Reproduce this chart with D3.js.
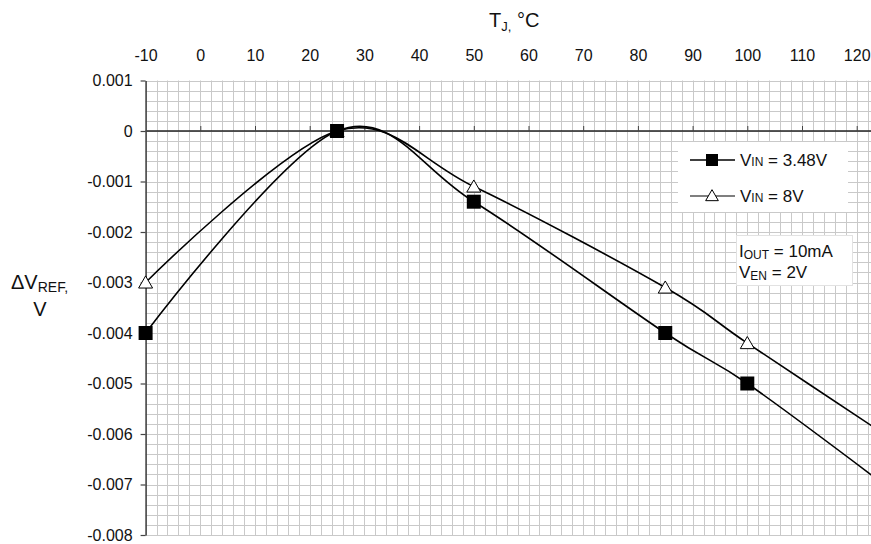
<!DOCTYPE html>
<html>
<head>
<meta charset="utf-8">
<script src="https://cdn.jsdelivr.net/npm/d3@7"></script>
<style>
  html, body { margin: 0; padding: 0; background: #fff; }
  svg { display: block; font-family: "Liberation Sans", Arial, sans-serif; }
</style>
</head>
<body>
<svg id="chart" width="871" height="544"></svg>
<script>
// Junction temperature (°C) at each measurement point
const temps = [-10, 25, 50, 85, 100, 125];
// Reference voltage shift (V) for each input voltage
const dvVin348 = [-0.004, 0, -0.0014, -0.004, -0.005, -0.007];
const dvVin8 = [-0.003, 0, -0.0011, -0.0031, -0.0042, -0.006];
// Axis ticks
const xTicks = [-10, 0, 10, 20, 30, 40, 50, 60, 70, 80, 90, 100, 110, 120];
const yTicks = [0.001, 0, -0.001, -0.002, -0.003, -0.004, -0.005, -0.006, -0.007, -0.008];
const seriesNames = ["3.48V", "8V"];

const W = 871, H = 544;
const plotLeft = 145.6, plotTop = 80.5, plotBottom = 535;
const svg = d3.select("#chart");

const x = d3.scaleLinear().domain([-10, 120]).range([plotLeft, 856.7]);
const y = d3.scaleLinear().domain([-0.008, 0.001]).range([plotBottom, plotTop]);
const xMaxVisible = x.invert(W);

const fmtY = d => d === 0 ? "0" : (d < 0 ? "-" : "") + Math.abs(d).toFixed(3);

// Minor grid
const grid = svg.append("g").attr("stroke", "#c9c9c9").attr("stroke-width", 1);
grid.selectAll("line.v").data(d3.range(-8, xMaxVisible, 2)).join("line")
  .attr("class", "v")
  .attr("x1", d => Math.round(x(d)) + 0.5).attr("x2", d => Math.round(x(d)) + 0.5)
  .attr("y1", plotTop).attr("y2", plotBottom);
grid.selectAll("line.h").data(d3.range(0, 46).map(i => 0.001 - i * 0.0002)).join("line")
  .attr("class", "h")
  .attr("x1", plotLeft).attr("x2", W)
  .attr("y1", d => Math.round(y(d)) + 0.5).attr("y2", d => Math.round(y(d)) + 0.5);

// Zero line with small upward ticks
const zeroAxis = svg.append("g")
  .attr("transform", `translate(0,${y(0)})`)
  .call(d3.axisTop(x).tickValues(xTicks.slice(1)).tickSize(5).tickSizeOuter(0).tickFormat(""));
zeroAxis.select(".domain").attr("d", `M${plotLeft},0H${W}`).attr("stroke", "#222").attr("stroke-width", 1.3);
zeroAxis.selectAll(".tick line").attr("stroke", "#444").attr("stroke-width", 1);

// Temperature labels along the top
const topAxis = svg.append("g")
  .attr("transform", "translate(0,61)")
  .call(d3.axisTop(x).tickValues(xTicks).tickSize(0).tickPadding(0).tickFormat(d => String(d)));
topAxis.select(".domain").remove();
topAxis.selectAll("text").attr("font-size", 16).attr("fill", "#111")
  .attr("font-family", "Liberation Sans, Arial, sans-serif").attr("dy", 0);

// Left axis
const yAxis = svg.append("g")
  .attr("transform", `translate(${plotLeft},0)`)
  .call(d3.axisLeft(y).tickValues(yTicks).tickSize(5).tickSizeOuter(0).tickPadding(8).tickFormat(fmtY));
yAxis.select(".domain").attr("stroke", "#444").attr("stroke-width", 1.6);
yAxis.selectAll(".tick line").attr("stroke", "#444").attr("stroke-width", 1.2);
yAxis.selectAll("text").attr("font-size", 16).attr("fill", "#111")
  .attr("font-family", "Liberation Sans, Arial, sans-serif");

// Axis titles
const tTitle = svg.append("text").attr("x", 489).attr("y", 27).attr("font-size", 20).attr("fill", "#111");
tTitle.append("tspan").text("T");
tTitle.append("tspan").attr("font-size", 13).attr("dy", 4).text("J,");
tTitle.append("tspan").attr("dy", -4).text(" °C");

const vTitle = svg.append("text").attr("x", 11).attr("y", 289).attr("font-size", 20).attr("fill", "#111");
vTitle.append("tspan").text("ΔV");
vTitle.append("tspan").attr("font-size", 14).attr("dy", 3).text("REF,");
svg.append("text").attr("x", 40).attr("y", 316).attr("font-size", 20).attr("fill", "#111")
  .attr("text-anchor", "middle").text("V");

// Curves
svg.append("clipPath").attr("id", "plotClip").append("rect")
  .attr("x", plotLeft - 10).attr("y", 0).attr("width", W - plotLeft + 10).attr("height", H);
const plot = svg.append("g").attr("clip-path", "url(#plotClip)");
const line = d3.line().x(d => x(d[0])).y(d => y(d[1])).curve(d3.curveCardinal.tension(0));

const tri = d3.symbol().type(d3.symbolTriangle).size(85);
const pts8 = temps.map((t, i) => [t, dvVin8[i]]);
const pts348 = temps.map((t, i) => [t, dvVin348[i]]);

plot.append("path").datum(pts8).attr("d", line)
  .attr("fill", "none").attr("stroke", "#000").attr("stroke-width", 1.6);
plot.selectAll("path.tri").data(pts8).join("path").attr("class", "tri")
  .attr("d", tri).attr("transform", d => `translate(${x(d[0])},${y(d[1]) + 1.5})`)
  .attr("fill", "#fff").attr("stroke", "#000").attr("stroke-width", 1);

plot.append("path").datum(pts348).attr("d", line)
  .attr("fill", "none").attr("stroke", "#000").attr("stroke-width", 1.6);
plot.selectAll("rect.sq").data(pts348).join("rect").attr("class", "sq")
  .attr("x", d => x(d[0]) - 7).attr("y", d => y(d[1]) - 7)
  .attr("width", 14).attr("height", 14).attr("fill", "#000");

// Legend
const lg = svg.append("g");
lg.append("rect").attr("x", 678).attr("y", 142).attr("width", 170).attr("height", 70).attr("fill", "#fff");
seriesNames.forEach((name, i) => {
  const cy = 160 + i * 36;
  lg.append("line").attr("x1", 690).attr("x2", 735).attr("y1", cy).attr("y2", cy)
    .attr("stroke", "#000").attr("stroke-width", i === 0 ? 1.6 : 1.2);
  if (i === 0) {
    lg.append("rect").attr("x", 706).attr("y", cy - 6).attr("width", 12).attr("height", 12).attr("fill", "#000");
  } else {
    lg.append("path").attr("d", d3.symbol().type(d3.symbolTriangle).size(70)())
      .attr("transform", `translate(712,${cy + 1})`).attr("fill", "#fff").attr("stroke", "#000").attr("stroke-width", 1);
  }
  const t = lg.append("text").attr("x", 740).attr("y", cy + 6).attr("font-size", 17).attr("fill", "#111");
  t.append("tspan").text("V");
  t.append("tspan").attr("font-size", 12).text("IN");
  t.append("tspan").text(" = " + name);
});

// Test conditions note
const note = svg.append("g");
note.append("rect").attr("x", 736.5).attr("y", 235.5).attr("width", 116).attr("height", 50)
  .attr("fill", "#fff").attr("stroke", "#e2e2e2").attr("stroke-width", 1);
const n1 = note.append("text").attr("x", 739).attr("y", 257).attr("font-size", 17).attr("fill", "#111");
n1.append("tspan").text("I");
n1.append("tspan").attr("font-size", 12).attr("dy", 2).text("OUT");
n1.append("tspan").attr("dy", -2).text(" = 10mA");
const n2 = note.append("text").attr("x", 739).attr("y", 278).attr("font-size", 17).attr("fill", "#111");
n2.append("tspan").text("V");
n2.append("tspan").attr("font-size", 12).attr("dy", 2).text("EN");
n2.append("tspan").attr("dy", -2).text(" = 2V");
</script>
</body>
</html>
